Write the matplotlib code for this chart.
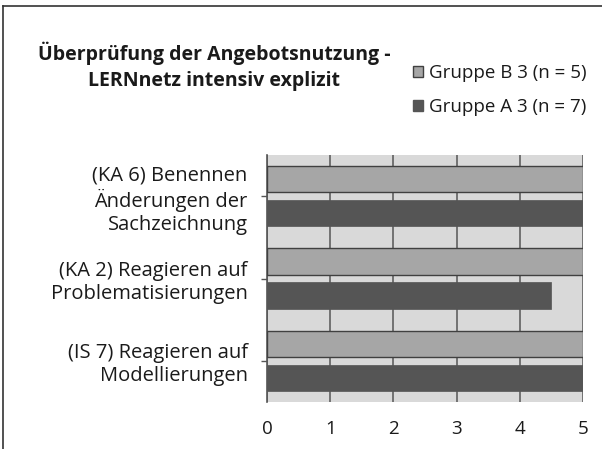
import matplotlib.pyplot as plt
from matplotlib.lines import Line2D
from matplotlib.patches import Patch
import numpy as np

plt.rcParams['font.family'] = ['Open Sans', 'DejaVu Sans']

categories = ['(IS 7) Reagieren auf\nModellierungen',
              '(KA 2) Reagieren auf\nProblematisierungen',
              '(KA 6) Benennen\nÄnderungen der\nSachzeichnung']
gruppe_b = [5, 5, 5]
gruppe_a = [5, 4.5, 5]
ticks = [0, 1, 2, 3, 4, 5]
title = 'Überprüfung der Angebotsnutzung -\nLERNnetz intensiv explizit'

fig = plt.figure(figsize=(6.02, 4.49), dpi=100)
ax = fig.add_axes([267 / 602, 1 - 402 / 449, 316 / 602, 247 / 449])

y = np.arange(len(categories))
h = 0.32
ax.set_facecolor('#d9d9d9')
ax.barh(y + 0.205, gruppe_b, height=h, color='#a6a6a6', edgecolor='#404040',
        linewidth=1, zorder=3)
ax.barh(y - 0.205, gruppe_a, height=h, color='#555555', edgecolor='#555555',
        linewidth=0.5, zorder=3)

ax.set_xlim(0, 5)
ax.set_ylim(-0.5, 2.5)
ax.set_xticks(ticks)
ax.set_xticklabels([str(t) for t in ticks])
ax.grid(axis='x', color='#606060', linewidth=1.2, zorder=1)
ax.set_yticks(y)
ax.set_yticklabels(categories, fontsize=14.5, color='#1a1a1a', linespacing=1.2)
for lab in ax.get_yticklabels():
    lab.set_multialignment('right')
ax.tick_params(axis='y', length=4, width=1, color='#555555', pad=10)
ax.tick_params(axis='x', length=0, labelsize=13.5, pad=13, labelcolor='#1a1a1a')
for s in ['top', 'right', 'bottom']:
    ax.spines[s].set_visible(False)
ax.spines['left'].set_color('#555555')
ax.spines['left'].set_linewidth(1.2)

fig.text(214 / 602, 1 - 66 / 449, title, ha='center', va='center',
         fontsize=14, fontweight='bold', color='#1a1a1a', linespacing=1.4)

handles = [Patch(facecolor='#a6a6a6', edgecolor='#404040'),
           Patch(facecolor='#555555', edgecolor='#555555')]
fig.legend(handles, ['Gruppe B 3 (n = 5)', 'Gruppe A 3 (n = 7)'],
           loc='center left', bbox_to_anchor=(396 / 602, 1 - 90 / 449),
           frameon=False, fontsize=13.5, handlelength=0.55, handleheight=0.55,
           handletextpad=0.3, labelspacing=0.85, labelcolor='#1a1a1a')

# frame of the original picture
fig.add_artist(Line2D([3 / 602, 3 / 602], [0, 1 - 6 / 449], color='#333333',
                      linewidth=1.2, transform=fig.transFigure))
fig.add_artist(Line2D([3 / 602, 1], [1 - 6 / 449, 1 - 6 / 449], color='#333333',
                      linewidth=1.2, transform=fig.transFigure))

fig.savefig('out.png', dpi=100)
